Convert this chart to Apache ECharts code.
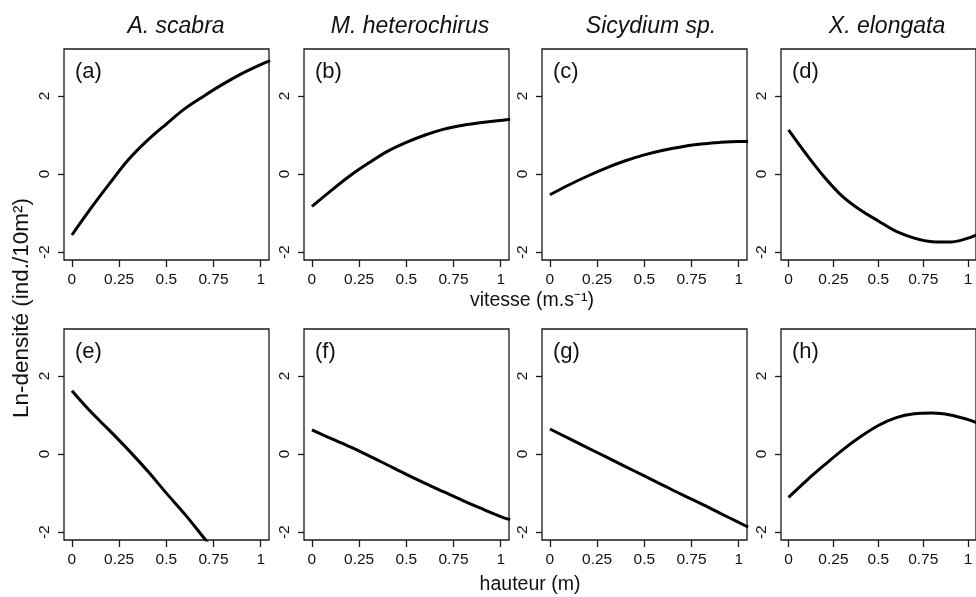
<!DOCTYPE html>
<html><head><meta charset="utf-8">
<script src="https://cdn.jsdelivr.net/npm/echarts@6/dist/echarts.min.js"></script>
<style>html,body{margin:0;padding:0;background:#fff}#c{width:976px;height:597px}</style>
</head><body><div id="c"></div>
<script>
// ---- data ----
const species = ['A. scabra', 'M. heterochirus', 'Sicydium sp.', 'X. elongata'];
const panelLetters = ['(a)', '(b)', '(c)', '(d)', '(e)', '(f)', '(g)', '(h)'];
const xTicks = [0, 0.25, 0.5, 0.75, 1];
const yTicks = [-2, 0, 2];
const xTitleTop = 'vitesse (m.s⁻¹)';
const xTitleBottom = 'hauteur (m)';
const yTitle = 'Ln-densité (ind./10m²)';

const xVals  = [0, 0.1, 0.2, 0.3, 0.4, 0.5, 0.6, 0.7, 0.8, 0.9, 1.0, 1.05];
const xValsE = [0, 0.1, 0.2, 0.3, 0.4, 0.5, 0.6, 0.7, 0.75];
const yA = [-1.56, -0.88, -0.24, 0.37, 0.86, 1.28, 1.68, 2.0, 2.3, 2.57, 2.80, 2.9];
const yB = [-0.83, -0.43, -0.05, 0.28, 0.58, 0.81, 1.0, 1.15, 1.25, 1.32, 1.37, 1.4];
const yC = [-0.53, -0.28, -0.05, 0.16, 0.34, 0.49, 0.61, 0.70, 0.77, 0.81, 0.83, 0.83];
const yD = [1.13, 0.5, -0.08, -0.57, -0.92, -1.2, -1.47, -1.64, -1.73, -1.74, -1.64, -1.55];
const yE = [1.62, 1.08, 0.6, 0.1, -0.43, -1.0, -1.55, -2.15, -2.45];
const yF = [0.62, 0.40, 0.19, -0.04, -0.28, -0.52, -0.75, -0.97, -1.19, -1.40, -1.60, -1.68];
const yG = [0.64, 0.40, 0.16, -0.08, -0.32, -0.56, -0.80, -1.04, -1.27, -1.51, -1.75, -1.87];
const yH = [-1.11, -0.68, -0.28, 0.1, 0.44, 0.73, 0.93, 1.03, 1.05, 1.0, 0.88, 0.8];

const panelX = [xVals, xVals, xVals, xVals, xValsE, xVals, xVals, xVals];
const panelY = [yA, yB, yC, yD, yE, yF, yG, yH];

// ---- layout ----
const colLeft = [64, 304, 542, 781];
const rowTop = [49, 329];
const W = 205, H = 211;
const FONT = 'Liberation Sans, Arial, sans-serif';
const INK = '#1a1a1a';

const grids = [], xAxes = [], yAxes = [], series = [], graphics = [];
for (let i = 0; i < 8; i++) {
  const r = i < 4 ? 0 : 1, c = i % 4;
  grids.push({left: colLeft[c], top: rowTop[r], width: W, height: H, show: true,
    borderColor: INK, borderWidth: 1.3, backgroundColor: 'transparent', containLabel: false});
  xAxes.push({gridIndex: i, type: 'value', min: -0.042, max: 1.044, position: 'bottom',
    axisLine: {show: false, onZero: false}, splitLine: {show: false},
    axisTick: {show: true, customValues: xTicks, length: 7, lineStyle: {color: INK, width: 1.3}},
    axisLabel: {show: true, customValues: xTicks, margin: 12, color: '#111', fontSize: 15.5, fontFamily: FONT,
      formatter: v => String(v)}});
  yAxes.push({gridIndex: i, type: 'value', min: -2.2, max: 3.2, position: 'left',
    axisLine: {show: false, onZero: false}, splitLine: {show: false},
    axisTick: {show: true, customValues: yTicks, length: 6, lineStyle: {color: INK, width: 1.3}},
    axisLabel: {show: true, customValues: yTicks, rotate: 90, margin: 11, color: '#111', fontSize: 15.5, fontFamily: FONT,
      formatter: v => String(v)}});
  series.push({type: 'line', xAxisIndex: i, yAxisIndex: i,
    data: panelX[i].map((x, j) => [x, panelY[i][j]]),
    showSymbol: false, smooth: 0.35, clip: true, silent: true,
    lineStyle: {color: '#000', width: 3}});
  graphics.push({type: 'text', x: colLeft[c] + 11, y: rowTop[r] + 23,
    style: {text: panelLetters[i], fontSize: 22, fontFamily: FONT, fill: '#111',
      align: 'left', verticalAlign: 'middle', textAlign: 'left', textVerticalAlign: 'middle'}});
}
const titleX = [176, 410, 651, 887];
species.forEach((s, k) => graphics.push({type: 'text', x: titleX[k], y: 27,
  style: {text: s, fontSize: 23, fontStyle: 'italic', fontFamily: FONT, fill: '#111',
    align: 'center', verticalAlign: 'middle', textAlign: 'center', textVerticalAlign: 'middle'}}));
graphics.push({type: 'text', x: 532, y: 301,
  style: {text: xTitleTop, fontSize: 19.5, fontFamily: FONT, fill: '#111',
    align: 'center', verticalAlign: 'middle', textAlign: 'center', textVerticalAlign: 'middle'}});
graphics.push({type: 'text', x: 530, y: 585,
  style: {text: xTitleBottom, fontSize: 19.5, fontFamily: FONT, fill: '#111',
    align: 'center', verticalAlign: 'middle', textAlign: 'center', textVerticalAlign: 'middle'}});
graphics.push({type: 'text', x: 22, y: 308, rotation: Math.PI / 2,
  style: {text: yTitle, fontSize: 22.5, fontFamily: FONT, fill: '#111',
    align: 'center', verticalAlign: 'middle', textAlign: 'center', textVerticalAlign: 'middle'}});

const chart = echarts.init(document.getElementById('c'), null, {renderer: 'canvas'});
chart.setOption({
  animation: false,
  backgroundColor: '#fff',
  grid: grids, xAxis: xAxes, yAxis: yAxes, series: series,
  graphic: {elements: graphics}
});
</script></body></html>
